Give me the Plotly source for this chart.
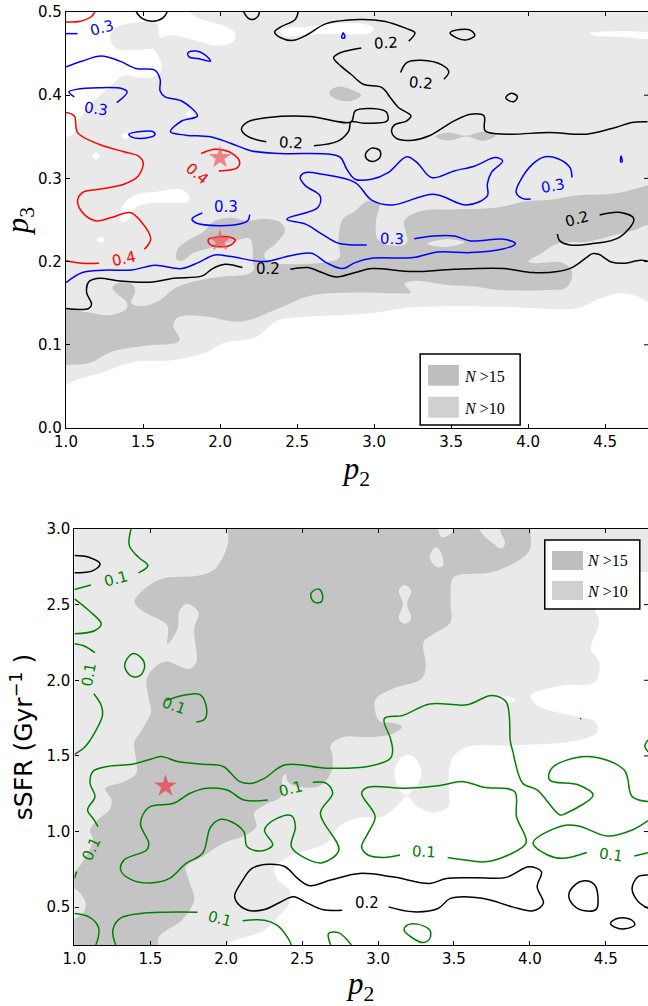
import plotly.graph_objects as go

LIGHT = "#e9e9e9"
DARK = "#c4c4c4"
XMAX = 4.778

# ---------- top panel (p2, p3) ----------
top_light = [(1.805,.53),(1.805,.5),(1.892,.4904),(2.043,.4824),(2.097,.4743),(2.087,.4643),(1.978,.4595),(1.827,.4663),(1.675,.4723),(1.61,.4695),(1.589,.4864),(1.416,.4864),(1.318,.4804),(1.286,.4683),(1.329,.4563),(1.459,.4543),(1.567,.4551),(1.606,.4443),(1.621,.4323),(1.589,.4235),(1.48,.4211),(1.372,.4235),(1.286,.4102),(1.177,.3922),(1.091,.3722),(1.058,.3562),(1.0,.349),(.9,.34),(.9,.02),(1.0,.051),(1.24,.067),(1.43,.079),(1.72,.082),(1.91,.091),(2.02,.102),(2.23,.109),(2.37,.129),(2.5,.133),(2.98,.138),(3.25,.145),(3.79,.146),(4.32,.144),(4.46,.155),(4.59,.162),(4.70,.159),(4.78,.151),(4.95,.14),(4.95,.6),(1.805,.6)]
top_holes = [
    [(4.4,.4745),(4.5,.4765),(4.85,.473),(4.85,.4685),(4.6,.470),(4.42,.472)],
    [(2.394,.4772),(2.448,.4812),(2.582,.4824),(2.769,.4864),(2.944,.4852),(2.997,.48),(2.97,.4744),(2.823,.4732),(2.635,.4732),(2.528,.472),(2.421,.4712)],
    [(1.351,.254),(1.372,.268),(1.448,.28),(1.589,.284),(1.74,.2869),(1.794,.28),(1.794,.272),(1.697,.2708),(1.545,.27),(1.448,.264),(1.405,.25),(1.361,.248)],
    [(1.17,.327),(1.195,.331),(1.22,.327),(1.195,.323)],
    [(1.775,.377),(1.8,.381),(1.825,.377),(1.8,.373)],
    [(1.362,.351),(1.387,.355),(1.412,.351),(1.387,.347)],
    [(1.2,.226),(1.227,.23),(1.25,.227),(1.225,.223)],
]
top_dark = [(.9,.14),(1.0,.1428),(1.147,.1388),(1.281,.1356),(1.389,.1428),(1.397,.15),(1.322,.1628),(1.3,.1688),(1.349,.1748),(1.429,.1728),(1.45,.1648),(1.424,.15),(1.509,.1468),(1.603,.1528),(1.697,.1668),(1.804,.1748),(2.019,.182),(2.18,.1848),(2.22,.1908),(2.212,.2),(2.212,.2148),(2.193,.2276),(2.099,.2248),(1.992,.2188),(1.831,.2108),(1.751,.2008),(1.718,.2028),(1.724,.2148),(1.804,.2268),(1.885,.2348),(1.965,.2488),(2.072,.2528),(2.18,.2488),(2.287,.2516),(2.394,.2468),(2.421,.2368),(2.367,.2228),(2.287,.2088),(2.314,.2),(2.716,.2),(2.775,.2048),(2.769,.2268),(2.796,.2508),(2.877,.2608),(2.957,.2728),(3.032,.2708),(3.011,.2468),(3.024,.2268),(3.105,.2196),(3.212,.2228),(3.193,.2468),(3.212,.2528),(3.306,.2608),(3.52,.2628),(3.788,.2648),(4.003,.2728),(4.13,.274),(4.346,.28),(4.562,.282),(4.78,.292),(4.95,.3),(4.95,.235),(4.78,.244),(4.693,.238),(4.562,.232),(4.389,.224),(4.195,.222),(4.086,.21),(4.0,.2),(4.043,.198),(4.216,.199),(4.281,.19),(4.281,.178),(4.238,.168),(4.13,.166),(3.805,.166),(3.653,.17),(3.481,.172),(3.252,.1768),(3.198,.1728),(3.239,.1628),(3.145,.162),(2.85,.1628),(2.582,.1588),(2.394,.1448),(2.206,.1308),(2.099,.1276),(1.912,.134),(1.724,.1328),(1.697,.1228),(1.737,.1048),(1.509,.0988),(1.295,.0916),(1.161,.0788),(1.0,.0756),(.9,.075)]
top_dark_extra = [
    [(2.708,.403),(2.756,.41),(2.85,.407),(2.917,.3998),(2.85,.393),(2.756,.395)],
    [(3.399,.3504),(3.48,.3552),(3.6,.3512),(3.708,.3564),(3.788,.3512),(3.708,.3452),(3.6,.3504),(3.48,.3456)],
]
top_dark_holes = [[(3.346,.2216),(3.466,.2268),(3.587,.2232),(3.466,.2176)]]

top_red = [
    [(1.0,.488),(1.094,.489),(1.161,.494),(1.188,.5)],
    [(1.0,.3792),(1.054,.375),(1.075,.355),(1.214,.341),(1.375,.332),(1.469,.327),(1.501,.319),(1.469,.303),(1.375,.293),(1.214,.287),(1.107,.283),(1.075,.273),(1.107,.259),(1.193,.249),(1.295,.253),(1.416,.259),(1.483,.249),(1.55,.227),(1.509,.215)],
    [(1.0,.201),(1.107,.198),(1.214,.198)],
    [(1.877,.33),(1.965,.335),(2.059,.332),(2.126,.321),(2.113,.313),(1.992,.309)],
    [(1.925,.227),(2.005,.23),(2.072,.229),(2.099,.226),(2.059,.219),(1.952,.219),(1.925,.223),(1.925,.227)],
]
top_blue = [
    [(1.0,.474),(1.075,.474)],
    [(1.0,.434),(1.107,.441),(1.228,.447),(1.349,.441),(1.456,.432),(1.576,.430),(1.611,.419),(1.611,.405),(1.643,.398),(1.751,.393),(1.853,.375),(1.751,.369),(1.678,.356),(1.777,.352),(1.938,.350),(2.072,.342),(2.206,.333),(2.394,.330),(2.716,.329),(2.783,.325),(2.823,.311),(2.877,.299),(2.984,.299),(3.091,.307),(3.212,.326),(3.279,.319),(3.373,.301),(3.52,.309),(3.654,.315),(3.788,.325),(3.834,.321),(3.761,.307),(3.735,.293),(3.735,.279),(3.6,.268),(3.386,.281),(3.118,.268),(2.984,.274),(2.877,.295),(2.662,.305),(2.555,.307),(2.52,.301),(2.555,.291),(2.649,.279),(2.635,.265),(2.434,.251),(2.555,.245),(2.662,.233),(2.769,.222),(2.952,.220)],
    [(1.054,.398),(1.019,.404),(1.067,.407),(1.214,.409),(1.362,.408),(1.397,.404),(1.33,.391)],
    [(1.791,.451),(1.845,.453),(1.898,.449),(1.938,.441),(1.857,.444),(1.799,.446),(1.791,.451)],
    [(1.408,.353),(1.469,.356),(1.568,.356),(1.576,.352),(1.483,.348),(1.424,.35),(1.408,.353)],
    [(2.79,.469),(2.8,.475),(2.81,.469),(2.79,.469)],
    [(1.885,.2584),(1.818,.2512),(1.845,.2464),(1.992,.2432),(2.126,.2452),(2.18,.2492),(2.193,.2564)],
    [(4.284,.3012),(4.271,.3132),(4.19,.324),(4.11,.326),(4.029,.3172),(3.949,.2972),(3.922,.2832),(3.962,.276),(4.016,.2752)],
    [(4.60,.320),(4.603,.327),(4.61,.32),(4.60,.32)],
    [(3.26,.2276),(3.386,.2308),(3.52,.2308),(3.627,.2248),(3.842,.2268),(3.917,.2216),(3.828,.2148),(3.627,.2108),(3.413,.2116),(3.252,.2048),(2.984,.204),(2.877,.1988),(2.796,.1916),(2.689,.1988),(2.595,.21),(2.448,.2068),(2.287,.2),(2.072,.206),(1.965,.208),(1.858,.1988),(1.751,.1916),(1.576,.1956),(1.429,.19),(1.241,.1896),(1.107,.1868),(1.0,.1748)],
]
top_black = [
    [(1.456,.5),(1.496,.492),(1.563,.489),(1.63,.493),(1.657,.5)],
    [(2.153,.5),(2.18,.493),(2.212,.491),(2.247,.495),(2.255,.5)],
    [(2.507,.5),(2.488,.491),(2.394,.482),(2.354,.476),(2.394,.469),(2.475,.466),(2.568,.473),(2.689,.486),(2.903,.491),(3.064,.489),(3.212,.48),(3.265,.475),(3.225,.465)],
    [(3.493,.475),(3.56,.479),(3.627,.478),(3.654,.472),(3.6,.4665),(3.547,.468),(3.493,.475)],
    [(2.917,.4568),(2.783,.4512),(2.737,.4452),(2.783,.4352),(2.85,.4252),(2.93,.4132),(3.051,.4092),(3.105,.3972),(3.158,.3852),(3.239,.3752),(3.212,.3692),(3.131,.364),(3.113,.3572),(3.145,.348),(3.252,.346),(3.359,.3512),(3.52,.3692),(3.627,.3772),(3.713,.3752),(3.721,.3572),(3.869,.3532),(4.137,.3552),(4.378,.3532),(4.566,.3612),(4.673,.3672),(4.775,.368)],
    [(3.172,.4272),(3.212,.4392),(3.306,.442),(3.44,.4364),(3.485,.428),(3.453,.4192)],
    [(3.855,.3972),(3.89,.4024),(3.93,.3984),(3.909,.3924),(3.869,.394),(3.855,.3972)],
    [(2.3,.344),(2.18,.3504),(2.139,.3592),(2.18,.368),(2.314,.3732),(2.582,.3744),(2.85,.368),(2.877,.3812),(2.984,.384),(3.078,.38),(3.086,.3692),(2.93,.3664),(2.85,.368),(2.836,.3572),(2.769,.3452),(2.609,.3392)],
    [(2.944,.3292),(2.984,.3364),(3.038,.3332),(3.038,.3252),(2.992,.3204),(2.952,.3232),(2.944,.3292)],
    [(4.464,.256),(4.592,.2592),(4.686,.2512),(4.592,.2292),(4.405,.2212),(4.271,.22),(4.204,.2252),(4.19,.2332)],
    [(1.0,.1436),(1.147,.1436),(1.166,.1488),(1.134,.1628),(1.147,.1756),(1.214,.18),(1.349,.1768),(1.563,.1756),(1.697,.18),(1.885,.1828),(1.952,.1916),(2.032,.1968),(2.145,.1928)],
    [(2.456,.1908),(2.568,.1928),(2.662,.1868),(2.756,.1816),(2.877,.1868),(2.984,.1916),(3.252,.188),(3.52,.1908),(3.842,.1916),(4.029,.1868),(4.19,.188),(4.284,.1928),(4.378,.2048),(4.418,.2096),(4.458,.2088),(4.539,.1996),(4.619,.198),(4.727,.2016),(4.775,.2008)],
]
top_labels = [
    (1.233,.481,"0.3",-15,"#0000ff"),(3.078,.463,"0.2",-3,"black"),(3.306,.4152,"0.2",5,"black"),
    (1.196,.3832,"0.3",8,"#0000ff"),(2.461,.3424,"0.2",3,"black"),(1.853,.3052,"0.4",40,"#ff0000"),
    (4.164,.2904,"0.3",-10,"#0000ff"),(2.04,.2652,"0.3",0,"#0000ff"),(4.316,.2512,"0.2",-15,"black"),
    (3.113,.2268,"0.3",2,"#0000ff"),(1.375,.2028,"0.4",-12,"#ff0000"),(2.308,.1908,"0.2",0,"black"),
]
top_stars = [(2.0,.325,"rgba(240,90,95,.72)"),(2.0,.225,"rgba(240,90,95,.72)")]

# ---------- bottom panel (p2, sSFR) ----------
bot_light = [(.9,3.2),(4.95,3.2),(4.95,2.72),(4.778,2.718),(4.457,2.648),(4.43,2.472),(4.457,2.384),(4.402,2.208),(4.457,2.12),(4.43,1.988),(4.212,1.966),(4.008,1.9),(4.048,1.834),(4.266,1.768),(4.43,1.724),(4.443,1.658),(4.321,1.603),(3.912,1.57),(3.586,1.559),(3.504,1.504),(3.477,1.452),(3.463,1.319),(3.463,1.165),(3.368,1.125),(3.259,1.165),(3.191,1.231),(3.123,1.165),(3.028,1.098),(2.851,1.087),(2.742,1.032),(2.66,.922),(2.579,.889),(2.415,.834),(2.32,.767),(2.334,.69),(2.415,.613),(2.415,.525),(2.361,.458),(2.252,.348),(2.034,.271),(1.95,.2),(.9,.1)]
bot_holes = [
    [(3.109,1.408),(3.164,1.496),(3.232,1.496),(3.286,1.385),(3.232,1.275),(3.177,1.242),(3.123,1.319)],
    [(3.79,1.878),(3.845,1.894),(3.904,1.868),(3.845,1.845)],
]
bot_dark = [(2.013,3.2),(2.013,3.0),(2.007,2.89),(1.925,2.736),(1.817,2.692),(1.572,2.67),(1.449,2.593),(1.395,2.516),(1.463,2.45),(1.612,2.362),(1.612,2.241),(1.68,2.34),(1.689,2.45),(1.735,2.505),(1.817,2.45),(1.789,2.34),(1.803,2.12),(1.762,2.076),(1.68,2.098),(1.612,2.124),(1.544,2.098),(1.476,2.01),(1.49,1.878),(1.504,1.79),(1.435,1.658),(1.395,1.592),(1.408,1.46),(1.408,1.385),(1.327,1.33),(1.204,1.286),(1.245,1.209),(1.231,1.143),(1.163,1.087),(1.103,1.01),(1.122,.944),(1.0,.734),(.9,.7),(.9,.64),(1.0,.624),(1.068,.547),(1.068,.48),(1.0,.425),(.9,.42),(.9,.1),(1.544,.15),(1.558,.304),(1.708,.414),(1.789,.547),(1.762,.657),(1.735,.767),(1.844,.834),(1.98,.922),(2.116,.97),(2.198,1.032),(2.184,1.121),(2.252,1.176),(2.361,1.231),(2.369,1.352),(2.388,1.381),(2.415,1.319),(2.606,1.297),(2.688,1.385),(2.701,1.496),(2.688,1.57),(2.769,1.625),(2.96,1.625),(3.096,1.647),(3.158,1.691),(3.096,1.719),(3.014,1.728),(2.981,1.79),(2.987,1.878),(3.096,1.944),(3.286,2.01),(3.314,2.098),(3.3,2.252),(3.368,2.307),(3.477,2.384),(3.477,2.516),(3.49,2.67),(3.531,2.696),(3.749,2.714),(3.94,2.802),(4.002,2.868),(4.002,3.0),(4.002,3.2),(3.803,3.2),(3.803,3.0),(3.836,2.901),(3.809,2.872),(3.763,2.901),(3.667,3.0),(3.667,3.2),(3.504,3.2),(3.504,3.0),(3.477,2.967),(3.422,2.945),(3.395,3.0),(3.395,3.2)]
bot_dark_holes = [
    [(3.341,2.813),(3.376,2.879),(3.409,2.857),(3.428,2.758),(3.39,2.747)],
    [(3.137,2.593),(3.172,2.63),(3.218,2.593),(3.191,2.505),(3.218,2.406),(3.177,2.373),(3.137,2.406),(3.164,2.505)],
]
bot_green = [
    [(1.373,3.0),(1.362,2.89),(1.422,2.813),(1.484,2.758),(1.422,2.71)],
    [(1.0,2.6),(1.109,2.63)],
    [(1.0,2.538),(1.095,2.461),(1.177,2.373),(1.136,2.329),(1.0,2.307)],
    [(1.0,2.241),(1.068,2.225),(1.136,2.182)],
    [(1.128,1.911),(1.177,1.834),(1.185,1.768),(1.136,1.658),(1.068,1.559),(1.0,1.51)],
    [(1.332,2.109),(1.381,2.175),(1.435,2.153),(1.463,2.098),(1.435,2.032),(1.381,2.025),(1.34,2.065),(1.332,2.109)],
    [(1.607,1.867),(1.735,1.904),(1.83,1.904),(1.871,1.812),(1.857,1.742),(1.803,1.724)],
    [(2.557,2.571),(2.606,2.604),(2.633,2.571),(2.628,2.52),(2.579,2.516),(2.557,2.571)],
    [(1.155,1.032),(1.131,1.076),(1.087,1.143),(1.136,1.231),(1.103,1.319),(1.122,1.397),(1.218,1.43),(1.381,1.445),(1.49,1.474),(1.572,1.496),(1.68,1.463),(1.844,1.445),(1.98,1.43),(2.089,1.33),(2.17,1.319),(2.252,1.352),(2.388,1.441),(2.66,1.419),(2.933,1.43),(3.082,1.485),(3.096,1.54),(3.082,1.614),(3.041,1.746),(3.164,1.768),(3.341,1.843),(3.586,1.838),(3.749,1.9),(3.844,1.856),(3.872,1.592),(3.885,1.54),(3.953,1.319),(4.048,1.275),(4.198,1.11),(4.239,1.121),(4.416,1.242),(4.321,1.308),(4.13,1.341),(4.144,1.419),(4.375,1.496),(4.62,1.408),(4.674,1.231),(4.778,1.198)],
    [(4.778,1.605),(4.757,1.566),(4.778,1.528)],
    [(2.274,1.209),(2.116,1.209),(2.007,1.275),(1.871,1.286),(1.762,1.253),(1.653,1.187),(1.49,1.16),(1.435,1.054),(1.49,.922),(1.476,.878),(1.327,.812),(1.305,.745),(1.381,.679),(1.517,.661),(1.626,.69),(1.735,.789),(1.844,.856),(1.898,1.032),(1.966,1.081),(2.034,1.065),(2.116,.999),(2.138,.9),(2.225,.871),(2.306,.911),(2.252,1.01),(2.334,1.087),(2.429,1.105),(2.456,1.032),(2.429,.9),(2.524,.823),(2.633,.794),(2.742,.878),(2.62,1.121),(2.701,1.253),(2.66,1.319),(2.57,1.326)],
    [(3.145,.845),(3.041,.829),(2.933,.845),(2.892,.9),(2.933,.988),(2.981,1.098),(2.892,1.253),(2.933,1.293),(3.177,1.286),(3.395,1.302),(3.559,1.33),(3.695,1.293),(3.899,1.264),(3.912,1.098),(3.975,.926),(3.858,.845),(3.708,.8),(3.586,.811),(3.458,.829)],
    [(4.375,.862),(4.212,.823),(4.117,.845),(4.021,.926),(4.212,1.037),(4.321,1.037),(4.511,.97),(4.674,1.01),(4.778,1.072)],
    [(4.688,.838),(4.778,.86)],
    [(1.0,.69),(1.014,.734)],
    [(1.0,.458),(1.095,.436),(1.158,.37),(1.158,.304),(1.141,.25)],
    [(1.272,.25),(1.253,.348),(1.299,.425),(1.435,.458),(1.599,.467),(1.811,.467)],
    [(2.108,.41),(2.252,.414),(2.334,.381),(2.402,.304),(2.429,.25)],
    [(2.688,.25),(2.674,.326),(2.742,.33),(2.824,.25)],
    [(3.3,.266),(3.232,.293),(3.172,.348),(3.191,.381),(3.259,.388),(3.341,.348),(3.341,.293),(3.3,.266)],
    [(4.331,1.743),(4.338,1.749),(4.331,1.743)],
]
bot_black = [
    [(1.0,2.824),(1.095,2.813),(1.169,2.769),(1.122,2.725),(1.0,2.71)],
    [(2.764,.48),(2.633,.485),(2.538,.525),(2.443,.569),(2.361,.536),(2.252,.485),(2.143,.48),(2.067,.536),(2.056,.58),(2.102,.668),(2.17,.756),(2.279,.783),(2.388,.767),(2.47,.69),(2.551,.642),(2.688,.679),(2.878,.723),(3.096,.701),(3.341,.657),(3.45,.69),(3.64,.695),(3.844,.697),(3.994,.767),(4.076,.734),(4.048,.635),(4.089,.525),(4.021,.476),(3.885,.502),(3.695,.558),(3.477,.558),(3.395,.491),(3.232,.469),(3.069,.502)],
    [(4.256,.575),(4.285,.636),(4.361,.674),(4.427,.647),(4.449,.559),(4.438,.487),(4.361,.476),(4.285,.515),(4.256,.575)],
    [(4.531,.394),(4.581,.427),(4.669,.416),(4.691,.383),(4.625,.357),(4.559,.368),(4.531,.394)],
    [(4.778,.713),(4.713,.702),(4.673,.625),(4.713,.537),(4.778,.493)],
]
bot_labels = [
    (1.272,2.67,"0.1",-15,"#008000"),(1.095,2.036,"0.1",-80,"#008000"),(1.659,1.83,"0.1",20,"#008000"),
    (2.424,1.279,"0.1",-15,"#008000"),(1.114,.882,"0.1",-65,"#008000"),(1.961,.425,"0.1",15,"#008000"),
    (3.305,.862,"0.1",3,"#008000"),(4.533,.845,"0.1",8,"#008000"),(2.924,.525,"0.2",0,"black"),
]
bot_stars = [(1.6,1.3,"rgba(228,80,92,.85)")]

x_ticks = [1.0,1.5,2.0,2.5,3.0,3.5,4.0,4.5]
top_y_ticks = [0.0,0.1,0.2,0.3,0.4,0.5]
bot_y_ticks = [0.5,1.0,1.5,2.0,2.5,3.0]

W, H = 648, 1006
fig = go.Figure()

def poly(pts, color, xa, ya):
    fig.add_trace(go.Scatter(x=[p[0] for p in pts]+[pts[0][0]], y=[p[1] for p in pts]+[pts[0][1]],
        mode="lines", fill="toself", fillcolor=color, line=dict(width=0, color=color, shape="spline", smoothing=1.0),
        hoverinfo="skip", showlegend=False, xaxis=xa, yaxis=ya))

def curve(pts, color, xa, ya, w=1.5):
    fig.add_trace(go.Scatter(x=[p[0] for p in pts], y=[p[1] for p in pts], mode="lines",
        line=dict(width=w, color=color, shape="spline", smoothing=1.0),
        hoverinfo="skip", showlegend=False, xaxis=xa, yaxis=ya))

def stars(items, xa, ya, size):
    fig.add_trace(go.Scatter(x=[s[0] for s in items], y=[s[1] for s in items], mode="markers",
        marker=dict(symbol="star", size=size, color=[s[2] for s in items], line=dict(width=0)),
        hoverinfo="skip", showlegend=False, xaxis=xa, yaxis=ya))

# top
poly(top_light, LIGHT, "x", "y")
for h in top_holes: poly(h, "white", "x", "y")
poly(top_dark, DARK, "x", "y")
for d in top_dark_extra: poly(d, DARK, "x", "y")
for h in top_dark_holes: poly(h, LIGHT, "x", "y")
for c in top_black: curve(c, "black", "x", "y")
for c in top_blue: curve(c, "#0000ff", "x", "y")
for c in top_red: curve(c, "#ff0000", "x", "y")
stars(top_stars, "x", "y", 17)

# bottom
poly(bot_light, LIGHT, "x2", "y2")
for h in bot_holes: poly(h, "white", "x2", "y2")
poly(bot_dark, DARK, "x2", "y2")
for h in bot_dark_holes: poly(h, LIGHT, "x2", "y2")
for c in bot_black: curve(c, "black", "x2", "y2")
for c in bot_green: curve(c, "#008000", "x2", "y2")
stars(bot_stars, "x2", "y2", 17)

TICKFONT = dict(family="DejaVu Sans", size=15, color="black")
TITLEP = dict(family="Liberation Serif", size=31, color="black")
axis_common = dict(showgrid=False, zeroline=False, showline=True, linecolor="black", linewidth=1.3,
                   ticks="inside", ticklen=4, tickwidth=1, tickcolor="black", tickfont=TICKFONT,
                   tickformat=".1f", automargin=False)

fig.update_layout(
    width=W, height=H, autosize=False, margin=dict(l=0, r=0, t=0, b=0),
    paper_bgcolor="white", plot_bgcolor="white", showlegend=False,
    xaxis=dict(domain=[66/W, 1], range=[1.0, XMAX], tickvals=x_ticks, anchor="y", mirror="ticks",
               title=dict(text="<i>p</i><sub>2</sub>", font=TITLEP, standoff=6), **axis_common),
    yaxis=dict(domain=[1-428/H, 1-12/H], range=[0.0, 0.5], tickvals=top_y_ticks, anchor="x",
               title=dict(text="<i>p</i><sub>3</sub>", font=TITLEP, standoff=10), **axis_common),
    xaxis2=dict(domain=[74.4/W, 1], range=[1.0, XMAX], tickvals=x_ticks, anchor="y2", mirror="ticks",
                title=dict(text="<i>p</i><sub>2</sub>", font=TITLEP, standoff=6), **axis_common),
    yaxis2=dict(domain=[1-945/H, 1-529/H], range=[0.25, 3.0], tickvals=bot_y_ticks, anchor="x2",
                title=dict(text="sSFR (Gyr<sup>−1</sup> )", font=dict(family="DejaVu Sans", size=25, color="black"), standoff=6), **axis_common),
)

shapes = []
annos = []
def right_ticks(vals, xr, yr, length):
    for v in vals:
        shapes.append(dict(type="line", xref=xr, yref=yr, x0=XMAX-length, x1=XMAX, y0=v, y1=v, line=dict(color="black", width=1)))
right_ticks(top_y_ticks[1:-1], "x", "y", .026)
right_ticks(bot_y_ticks[:-1], "x2", "y2", .026)

def legend(xr, yr, box, sw15, sw10, tx, ty15, ty10):
    shapes.append(dict(type="rect", xref=xr, yref=yr, x0=box[0], x1=box[1], y0=box[2], y1=box[3], fillcolor="white", line=dict(color="black", width=1.5)))
    shapes.append(dict(type="rect", xref=xr, yref=yr, x0=sw15[0], x1=sw15[1], y0=sw15[2], y1=sw15[3], fillcolor="#bebebe", line=dict(width=0)))
    shapes.append(dict(type="rect", xref=xr, yref=yr, x0=sw10[0], x1=sw10[1], y0=sw10[2], y1=sw10[3], fillcolor="#d0d0d0", line=dict(width=0)))
    for t, yy in (("<i>N</i> >15", ty15), ("<i>N</i> >10", ty10)):
        annos.append(dict(xref=xr, yref=yr, x=tx, y=yy, text=t, showarrow=False, xanchor="left", yanchor="middle",
                          font=dict(family="Liberation Serif", size=16, color="black")))

legend("x", "y", (3.299,3.948,.0036,.089), (3.351,3.55,.0508,.0757), (3.351,3.55,.0124,.0376), 3.57, .0625, .0236)
legend("x2", "y2", (4.098,4.724,2.471,2.927), (4.146,4.35,2.729,2.855), (4.146,4.35,2.531,2.656), 4.36, 2.79, 2.59)

for (lab, xr, yr) in ((top_labels, "x", "y"), (bot_labels, "x2", "y2")):
    for x, y, t, a, c in lab:
        annos.append(dict(xref=xr, yref=yr, x=x, y=y, text=t, textangle=a, showarrow=False,
                          font=dict(family="DejaVu Sans", size=15, color=c)))

fig.update_layout(shapes=shapes, annotations=annos)
fig.write_html("out.html", config=dict(displayModeBar=False),
               post_script="document.body.style.margin='0';document.documentElement.style.overflow='hidden';")
